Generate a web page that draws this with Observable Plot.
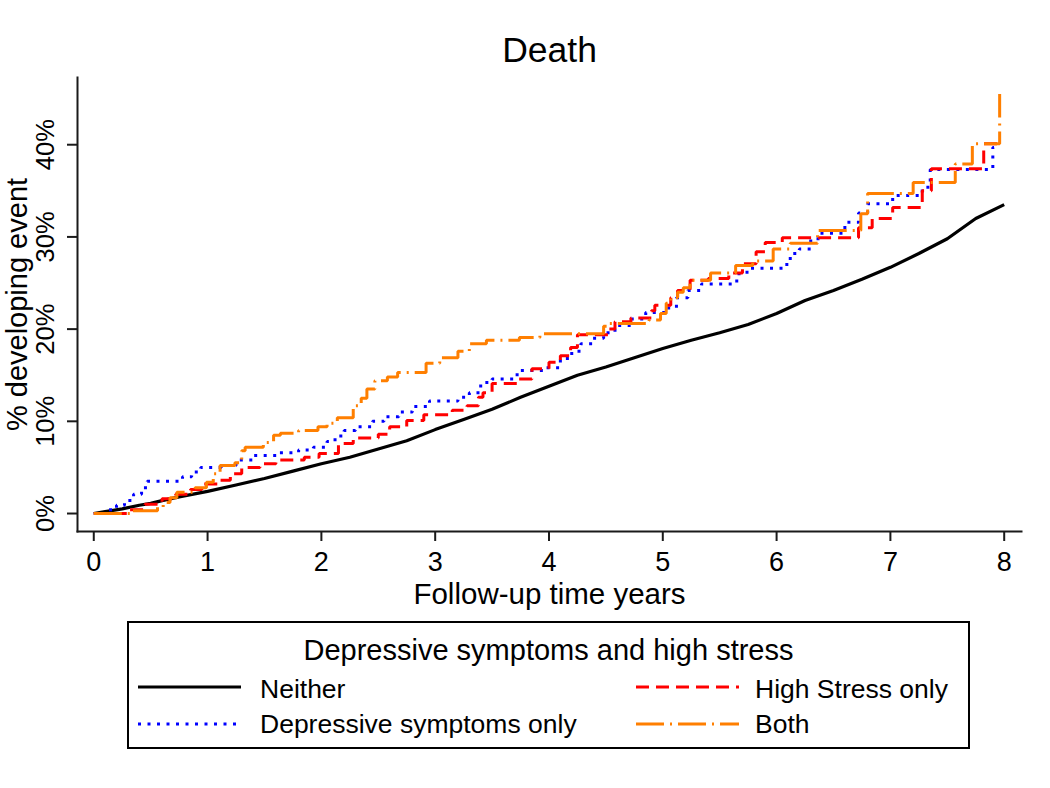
<!DOCTYPE html>
<html>
<head>
<meta charset="utf-8">
<script src="https://cdn.jsdelivr.net/npm/d3@7"></script>
<script src="https://cdn.jsdelivr.net/npm/@observablehq/plot@0.6"></script>
<style>
  html, body { margin: 0; padding: 0; background: #fff; }
  #wrap { position: relative; width: 1050px; height: 788px; overflow: hidden; background: #fff;
          font-family: "Liberation Sans", Arial, sans-serif; color: #000; }
  #wrap > svg { position: absolute; left: 0; top: 0; }
  .abs { position: absolute; white-space: nowrap; }
</style>
</head>
<body>
<div id="wrap"></div>
<script>
// ---------------- data ----------------
const chartTitle = "Death";
const xTitle = "Follow-up time years";
const yTitle = "% developing event";
const legendTitle = "Depressive symptoms and high stress";
const seriesNames = ["Neither", "Depressive symptoms only", "High Stress only", "Both"];

const xTicks = [0, 1, 2, 3, 4, 5, 6, 7, 8];
const yTicks = [0, 10, 20, 30, 40];

// Neither (black, many small steps)
const neitherT = [0, 0.1, 0.25, 0.4, 0.5, 0.6, 0.75, 1.0, 1.25, 1.5, 1.75, 2.0, 2.25, 2.5, 2.75, 3.0, 3.25, 3.5, 3.75, 4.0, 4.25, 4.5, 4.75, 5.0, 5.25, 5.5, 5.75, 6.0, 6.25, 6.5, 6.75, 7.0, 7.25, 7.5, 7.75, 8.0];
const neitherV = [0, 0.2, 0.5, 0.9, 1.1, 1.4, 1.8, 2.4, 3.1, 3.8, 4.6, 5.4, 6.1, 7.0, 7.9, 9.1, 10.2, 11.3, 12.6, 13.8, 15.0, 15.9, 16.9, 17.9, 18.8, 19.6, 20.5, 21.7, 23.1, 24.2, 25.4, 26.7, 28.2, 29.8, 32.0, 33.5];

// Depressive symptoms only (blue)
const depT = [0, 0.12, 0.2, 0.27, 0.35, 0.42, 0.47, 0.78, 0.86, 0.94, 1.12, 1.25, 1.4, 1.62, 1.8, 1.93, 2.05, 2.12, 2.2, 2.3, 2.45, 2.55, 2.68, 2.8, 2.95, 3.2, 3.3, 3.4, 3.5, 3.72, 3.95, 4.1, 4.2, 4.28, 4.38, 4.48, 4.58, 4.72, 4.85, 5.02, 5.12, 5.22, 5.34, 5.65, 5.74, 6.06, 6.12, 6.2, 6.3, 6.38, 6.6, 6.72, 6.8, 7.02, 7.28, 7.35, 7.9, 7.91];
const depV = [0, 0.4, 0.9, 1.4, 2.1, 2.8, 3.5, 4.0, 4.5, 5.0, 5.2, 5.8, 6.3, 6.6, 6.9, 7.2, 7.8, 8.4, 9.0, 9.4, 10.0, 10.5, 11.0, 11.6, 12.2, 12.6, 13.1, 14.2, 14.6, 15.5, 15.8, 16.8, 17.6, 18.4, 19.0, 19.6, 20.4, 21.1, 21.8, 22.3, 23.4, 24.2, 24.9, 26.0, 26.6, 27.0, 28.2, 28.7, 29.8, 30.4, 31.6, 32.6, 33.6, 34.5, 35.4, 37.3, 39.7, 39.7];

// High Stress only (red)
const stressT = [0, 0.3, 0.45, 0.6, 0.72, 0.85, 0.95, 1.1, 1.2, 1.3, 1.46, 1.6, 1.85, 1.98, 2.15, 2.28, 2.5, 2.6, 2.75, 2.9, 3.15, 3.28, 3.38, 3.42, 3.5, 3.72, 3.85, 4.0, 4.1, 4.19, 4.25, 4.52, 4.58, 4.72, 4.9, 4.93, 5.07, 5.13, 5.24, 5.4, 5.58, 5.7, 5.82, 5.9, 6.05, 6.72, 6.84, 7.02, 7.28, 7.36, 7.82, 7.96];
const stressV = [0, 0.4, 1.0, 1.6, 2.1, 2.6, 3.2, 3.6, 4.3, 5.0, 5.4, 5.8, 6.1, 6.5, 7.6, 8.2, 8.6, 9.4, 10.1, 10.7, 11.2, 11.7, 12.6, 13.1, 14.1, 14.6, 15.7, 16.4, 17.1, 18.0, 19.4, 20.0, 20.8, 21.2, 22.0, 22.6, 23.4, 24.2, 25.3, 25.5, 26.1, 27.1, 28.4, 29.4, 29.9, 31.0, 32.0, 33.2, 35.0, 37.4, 40.1, 40.1];

// Both (orange)
const bothT = [0, 0.32, 0.56, 0.61, 0.67, 0.73, 0.89, 0.99, 1.05, 1.11, 1.24, 1.3, 1.33, 1.49, 1.58, 1.64, 1.8, 1.97, 2.05, 2.14, 2.28, 2.35, 2.4, 2.47, 2.58, 2.67, 2.92, 3.04, 3.2, 3.3, 3.45, 3.74, 3.92, 4.48, 4.52, 4.88, 4.98, 5.03, 5.07, 5.13, 5.18, 5.24, 5.42, 5.64, 5.79, 5.97, 6.12, 6.36, 6.74, 6.8, 7.2, 7.57, 7.72, 7.96];
const bothV = [0, 0.3, 0.7, 1.2, 1.7, 2.3, 2.8, 3.4, 4.3, 5.2, 5.5, 6.8, 7.2, 7.7, 8.5, 8.7, 9.0, 9.4, 9.8, 10.4, 11.7, 12.5, 13.5, 14.4, 14.8, 15.3, 16.3, 16.9, 17.6, 18.4, 18.8, 19.1, 19.5, 20.3, 20.6, 21.0, 21.7, 22.8, 23.4, 24.0, 24.5, 25.3, 26.1, 26.9, 27.4, 28.7, 29.3, 30.7, 32.5, 34.7, 35.9, 37.9, 40.1, 45.5];

// ---------------- styles ----------------
const seriesColors = ["#000000", "#0000ff", "#ff0000", "#ff7f00"];
const seriesDash = [null, "3,6.5", "13,7", "28,6,2,6"];
const seriesWidth = [3.2, 3, 3, 3];
const seriesCurve = ["linear", "step-after", "step-after", "step-after"];
const FONT = "'Liberation Sans', Arial, Helvetica, sans-serif";

const seriesT = [neitherT, depT, stressT, bothT];
const seriesV = [neitherV, depV, stressV, bothV];
const seriesData = seriesT.map((T, i) => T.map((t, j) => ({t, v: seriesV[i][j], s: seriesNames[i]})));

const lineMarks = seriesData.map((rows, i) => Plot.line(rows, {
  x: "t", y: "v",
  stroke: seriesColors[i],
  strokeWidth: seriesWidth[i],
  strokeDasharray: seriesDash[i] || undefined,
  strokeLinecap: "butt",
  strokeLinejoin: "miter",
  curve: seriesCurve[i]
}));

const chart = Plot.plot({
  width: 1050,
  height: 615,
  marginTop: 77,
  marginBottom: 84,
  marginLeft: 77,
  marginRight: 29,
  x: {domain: [-0.143, 8.152]},
  y: {domain: [-1.95, 47.29]},
  style: {fontFamily: FONT, fontSize: "27px", color: "#000", background: "#fff", overflow: "visible"},
  marks: [
    Plot.frame({anchor: "left", stroke: "#1a1a1a", strokeWidth: 2}),
    Plot.frame({anchor: "bottom", stroke: "#1a1a1a", strokeWidth: 2}),
    Plot.axisX({ticks: xTicks, tickSize: 10, tickPadding: 10, tickFormat: d => String(d), label: null, fontSize: 27, stroke: "#1a1a1a", strokeWidth: 2}),
    Plot.axisY({ticks: yTicks, tickSize: 10, tickFormat: () => "", label: null, stroke: "#1a1a1a", strokeWidth: 2}),
    Plot.text(yTicks, {y: d => d, text: d => d + "%", frameAnchor: "left", textAnchor: "middle", lineAnchor: "middle", dx: -32, rotate: -90, fontSize: 25.5, fill: "#000"}),
    Plot.text([yTitle], {text: d => d, frameAnchor: "left", textAnchor: "middle", lineAnchor: "middle", dx: -60, rotate: -90, fontSize: 29, fill: "#000"}),
    Plot.text([xTitle], {text: d => d, frameAnchor: "bottom", textAnchor: "middle", lineAnchor: "middle", dy: 63, fontSize: 29.5, fill: "#000"}),
    Plot.text([chartTitle], {text: d => d, frameAnchor: "top", textAnchor: "middle", lineAnchor: "middle", dy: -26.4, fontSize: 35.5, fill: "#000"}),
    ...lineMarks
  ]
});

const wrap = document.getElementById("wrap");
wrap.appendChild(chart);

// ---------------- legend (HTML below the plot area) ----------------
function addDiv(text, left, top, size, extra) {
  const d = document.createElement("div");
  d.className = "abs";
  d.textContent = text;
  d.style.left = left + "px";
  d.style.top = top + "px";
  d.style.fontSize = size + "px";
  d.style.lineHeight = size + "px";
  if (extra) Object.assign(d.style, extra);
  wrap.appendChild(d);
  return d;
}

const box = document.createElement("div");
box.className = "abs";
Object.assign(box.style, {left: "127px", top: "621px", width: "843px", height: "128px",
  border: "2px solid #000", boxSizing: "border-box"});
wrap.appendChild(box);

addDiv(legendTitle, 127, 635.5, 29, {width: "843px", textAlign: "center"});

const entryPos = [
  {lx: 138, tx: 260, ly: 687, top: 676},
  {lx: 138, tx: 260, ly: 724, top: 711},
  {lx: 636, tx: 755, ly: 687, top: 676},
  {lx: 636, tx: 755, ly: 724, top: 711}
];
const NS = "http://www.w3.org/2000/svg";
seriesNames.forEach((name, i) => {
  const p = entryPos[i];
  const svg = document.createElementNS(NS, "svg");
  svg.setAttribute("width", 104);
  svg.setAttribute("height", 10);
  svg.style.position = "absolute";
  svg.style.left = p.lx + "px";
  svg.style.top = (p.ly - 5) + "px";
  const ln = document.createElementNS(NS, "line");
  ln.setAttribute("x1", 0); ln.setAttribute("x2", 103);
  ln.setAttribute("y1", 5); ln.setAttribute("y2", 5);
  ln.setAttribute("stroke", seriesColors[i]);
  ln.setAttribute("stroke-width", seriesWidth[i]);
  if (seriesDash[i]) ln.setAttribute("stroke-dasharray", seriesDash[i]);
  svg.appendChild(ln);
  wrap.appendChild(svg);
  addDiv(name, p.tx, p.top, 26.5);
});
</script>
</body>
</html>
